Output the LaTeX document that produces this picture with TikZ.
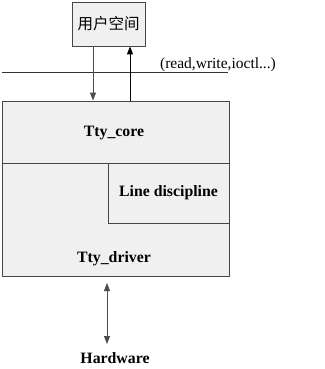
\documentclass[tikz,border=0pt]{standalone}
\usepackage{fontspec}
\setmainfont{Liberation Serif}
\newfontfamily\cjk{Noto Sans CJK SC}
\usepackage{tikz}
\usetikzlibrary{arrows.meta,positioning}
\definecolor{boxgray}{RGB}{240,240,240}
\definecolor{edgegray}{RGB}{70,70,70}

\begin{document}
\begin{tikzpicture}[x=1pt,y=-1pt,>={Triangle[length=8pt,width=6pt]},
    font=\fontsize{15.5}{18}\selectfont,
    layer/.style={draw=edgegray,fill=boxgray,line width=0.9pt,inner sep=0pt},
    lbl/.style={font=\fontsize{15.8}{18}\selectfont\bfseries},
    link/.style={->,line width=0.9pt,draw=black!70,fill=black}]
  \useasboundingbox (0,0) rectangle (324,369);
  % user space and system call line
  \node[layer,minimum width=73pt,minimum height=44pt] (user) at (108.5,24) {\cjk 用户空间};
  \draw[line width=0.8pt,black!80] (2,72) -- (228,72);
  \node (calls) at (218,65) {(read,write,ioctl...)};
  % tty layers
  \node[layer,minimum width=227pt,minimum height=175pt] (tty) at (115.5,188.5) {};
  \draw[edgegray,line width=0.9pt] (tty.west |- 0,163) -- (tty.east |- 0,163);
  \node[layer,minimum width=121pt,minimum height=60pt] (ldisc) at (168.5,193) {};
  \node[lbl] (core) at (114,133) {Tty\_core};
  \node[lbl] at (ldisc.center) {Line discipline};
  \node[lbl] (driver) at (114,259) {Tty\_driver};
  \node[lbl] (hw) at (115,358) {Hardware};
  % arrows
  \coordinate (dn) at (93,0);
  \coordinate (up) at (130,0);
  \coordinate (hwtop) at (107,283);
  \coordinate (hwbot) at (107,344);
  \draw[link] (user.south -| dn) -- (tty.north -| dn);
  \draw[link,black] (tty.north -| up) -- (user.south -| up);
  \draw[link,<->] (hwtop) -- (hwbot);
\end{tikzpicture}
\end{document}
